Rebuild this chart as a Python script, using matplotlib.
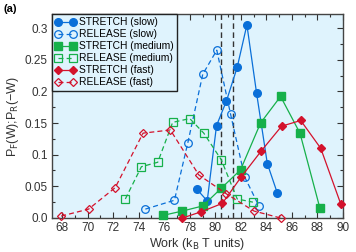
import matplotlib
matplotlib.use("Agg")
import matplotlib.pyplot as plt
from matplotlib.ticker import MultipleLocator, FixedLocator, FixedFormatter

plt.rcParams['font.family'] = ['Liberation Sans', 'DejaVu Sans']

# Data
stretch_slow_x = [78.53, 79.37, 80.10, 80.88, 81.72, 82.48, 83.24, 84.08, 84.87]
stretch_slow_y = [0.046, 0.027, 0.146, 0.185, 0.238, 0.305, 0.197, 0.086, 0.039]
release_slow_x = [74.52, 76.80, 77.84, 79.02, 80.12, 81.20, 82.30, 83.42]
release_slow_y = [0.014, 0.028, 0.118, 0.227, 0.265, 0.164, 0.065, 0.019]
stretch_med_x = [75.88, 77.43, 79.02, 80.47, 81.98, 83.55, 85.12, 86.64, 88.21]
stretch_med_y = [0.004, 0.011, 0.019, 0.047, 0.076, 0.150, 0.192, 0.134, 0.015]
release_med_x = [72.95, 74.21, 75.49, 76.66, 78.00, 79.10, 80.47, 81.72, 82.95]
release_med_y = [0.030, 0.081, 0.088, 0.151, 0.157, 0.134, 0.092, 0.030, 0.025]
stretch_fast_x = [77.43, 78.92, 80.55, 82.04, 83.61, 85.20, 86.70, 88.27, 89.84]
stretch_fast_y = [0.000, 0.010, 0.023, 0.065, 0.106, 0.145, 0.154, 0.110, 0.022]
release_fast_x = [67.92, 70.07, 72.16, 74.34, 76.48, 78.71, 80.88, 83.03, 85.12]
release_fast_y = [0.003, 0.014, 0.048, 0.134, 0.139, 0.068, 0.038, 0.011, 0.000]
vlines_x = [80.45, 81.42]

xticks = [68, 70, 72, 74, 76, 78, 80, 82, 84, 86, 88, 90]
yticks = [0.0, 0.05, 0.1, 0.15, 0.2, 0.25, 0.3]
ytick_labels = ["0.0", "0.05", "0.1", "0.15", "0.2", "0.25", "0.3"]

blue = "#0a6fd8"
green = "#16b04a"
red = "#d3122c"

fig = plt.figure(figsize=(3.56, 2.52), dpi=100)
ax = fig.add_axes([0.146, 0.135, 0.817, 0.809])
ax.set_facecolor("#dff3fd")

lw = 0.9
ax.plot(stretch_slow_x, stretch_slow_y, '-', color=blue, lw=lw, marker='o', ms=5.5,
        label="STRETCH (slow)", clip_on=False, zorder=3)
ax.plot(release_slow_x, release_slow_y, '--', color=blue, lw=lw, marker='o', ms=5.5,
        mfc='none', mew=0.9, label="RELEASE (slow)", dashes=(4, 2.5), clip_on=False, zorder=3)
ax.plot(stretch_med_x, stretch_med_y, '-', color=green, lw=lw, marker='s', ms=5.2,
        label="STRETCH (medium)", clip_on=False, zorder=3)
ax.plot(release_med_x, release_med_y, '--', color=green, lw=lw, marker='s', ms=5.2,
        mfc='none', mew=0.9, label="RELEASE (medium)", dashes=(4, 2.5), clip_on=False, zorder=3)
ax.plot(stretch_fast_x, stretch_fast_y, '-', color=red, lw=lw, marker='D', ms=4.2,
        label="STRETCH (fast)", clip_on=False, zorder=3)
ax.plot(release_fast_x, release_fast_y, '--', color=red, lw=lw, marker='D', ms=4.2,
        mfc='none', mew=0.9, label="RELEASE (fast)", dashes=(4, 2.5), clip_on=False, zorder=3)

for xv in vlines_x:
    ax.axvline(xv, color="#333333", lw=1.0, ls=(0, (4, 2.5)), zorder=2)

ax.set_xlim(67.2, 90)
ax.set_ylim(0, 0.322)
ax.xaxis.set_major_locator(FixedLocator(xticks))
ax.xaxis.set_minor_locator(MultipleLocator(1))
ax.yaxis.set_major_locator(FixedLocator(yticks))
ax.yaxis.set_major_formatter(FixedFormatter(ytick_labels))
ax.yaxis.set_minor_locator(MultipleLocator(0.025))
ax.tick_params(which='both', direction='in', top=True, right=True, labelsize=8.5,
               color="#333333", labelcolor="#333333")
ax.tick_params(which='major', length=4, width=0.8, pad=3)
ax.tick_params(which='minor', length=2.5, width=0.8)
for s in ax.spines.values():
    s.set_color("#444444")
    s.set_linewidth(1.0)

ax.set_xlabel("Work (k$_\\mathrm{B}$ T units)", fontsize=9, color="#333333", labelpad=1)
ax.set_ylabel("P$_\\mathrm{F}$(W);P$_\\mathrm{R}$(\u2212W)", fontsize=9, color="#333333", labelpad=3)

leg = ax.legend(loc='upper left', numpoints=2, handlelength=2.0, fontsize=7.4,
                frameon=True, fancybox=False, borderaxespad=0, borderpad=0.3,
                labelspacing=0.2, handletextpad=0.3, framealpha=1)
leg.get_frame().set_edgecolor("#222222")
leg.get_frame().set_facecolor("#dff3fd")
leg.get_frame().set_linewidth(1.0)

fig.text(0.01, 0.965, "(a)", fontsize=8, fontweight='bold', va='center', ha='left')

fig.savefig("out.png", dpi=100)
